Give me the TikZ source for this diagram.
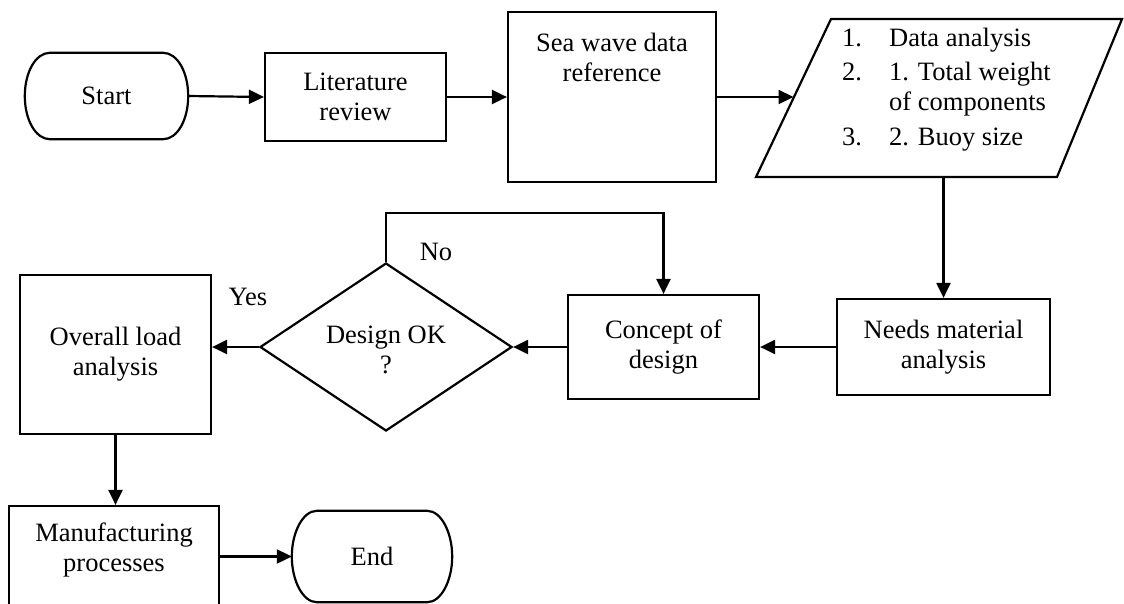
\documentclass[tikz,border=0pt]{standalone}
\usepackage{fontspec}
\setmainfont{Liberation Serif}
\usetikzlibrary{arrows.meta,shapes.geometric}
\tikzset{
  ln/.style={line width=2.2pt},
  box/.style={draw, line width=2.2pt, inner sep=0pt, align=center, font=\fontsize{26.5}{30}\selectfont},
  txt/.style={inner sep=0pt, align=center, font=\fontsize{26.5}{30}\selectfont},
  arr/.style={line width=2.2pt, -{Triangle[length=15pt,width=14pt]}},
}
\newcommand\termpath[1]{\draw[ln] ([xshift=25pt]#1.north west) -- ([xshift=-25pt]#1.north east)
  .. controls ([xshift=-11pt]#1.north east) and ([yshift=24pt]#1.east) .. (#1.east)
  .. controls ([yshift=-24pt]#1.east) and ([xshift=-11pt]#1.south east) .. ([xshift=-25pt]#1.south east)
  -- ([xshift=25pt]#1.south west)
  .. controls ([xshift=11pt]#1.south west) and ([yshift=-24pt]#1.west) .. (#1.west)
  .. controls ([yshift=24pt]#1.west) and ([xshift=11pt]#1.north west) .. cycle;}
\begin{document}
\begin{tikzpicture}[x=1pt,y=-1pt]
\useasboundingbox (0,0) rectangle (1124,603);
% nodes
\node[txt, minimum width=163pt, minimum height=86pt] (start) at (106.5,96) {Start};
\termpath{start}
\node[box, minimum width=181pt, minimum height=88pt] (lit) at (355.5,97) {Literature\\review};
\node[draw, line width=2.2pt, minimum width=208pt, minimum height=170pt, inner sep=0pt] (sea) at (612,97) {};
\node[txt] (seatxt) at (612,57) {Sea wave data\\reference};
% parallelogram
\draw[ln] (831,19) -- (1122,19) -- (1057,177) -- (756,177) -- cycle;
\coordinate (pin) at (793.5,97);
\coordinate (pbot) at (943.5,177);
\node[txt, anchor=base west] (n1) at (842,46) {1.};
\node[txt, anchor=base west] (t1) at (889,46) {Data analysis};
\node[txt, anchor=base west] (n2) at (842,80) {2.};
\node[txt, anchor=base west] (t2) at (889,80) {1. Total weight};
\node[txt, anchor=base west] (t2b) at (889,110) {of components};
\node[txt, anchor=base west] (n3) at (842,145) {3.};
\node[txt, anchor=base west] (t3) at (889,145) {2. Buoy size};
\node[box, minimum width=213pt, minimum height=96pt] (needs) at (943.5,347) {Needs material\\analysis};
\node[box, minimum width=191pt, minimum height=104pt] (concept) at (663.5,347) {Concept of\\design};
\node[draw, diamond, line width=2.2pt, minimum width=252pt, minimum height=168pt, inner sep=0pt] (dec) at (386,347) {};
\node[txt] (dectxt) at (386,350) {Design OK\\?};
\node[box, minimum width=191pt, minimum height=159pt] (overall) at (115.5,354.5) {Overall load\\analysis};
\node[draw, line width=2.2pt, minimum width=210pt, minimum height=130pt, inner sep=0pt] (manu) at (114,571) {};
\node[txt] (manutxt) at (114,550) {Manufacturing\\processes};
\node[txt, minimum width=160pt, minimum height=91pt] (stop) at (372,556.5) {End};
\termpath{stop}
\node[txt] (yes) at (248,297) {Yes};
\node[txt] (no) at (436,252) {No};
% connectors
\draw[arr] (start.east) -- (lit.west);
\draw[arr] (lit.east) -- (sea.west);
\draw[arr] (sea.east) -- (pin);
\draw[arr] (pbot) -- (needs.north);
\draw[arr] (needs.west) -- (concept.east);
\draw[arr] (concept.west) -- (dec.east);
\draw[arr] (dec.north) -- ++(0,-49) -| (concept.north);
\draw[arr] (dec.west) -- (dec.west -| overall.east);
\draw[arr] (overall.south) -- (overall.south |- manu.north);
\draw[arr] (stop.west -| manu.east) -- (stop.west);
\end{tikzpicture}
\end{document}
